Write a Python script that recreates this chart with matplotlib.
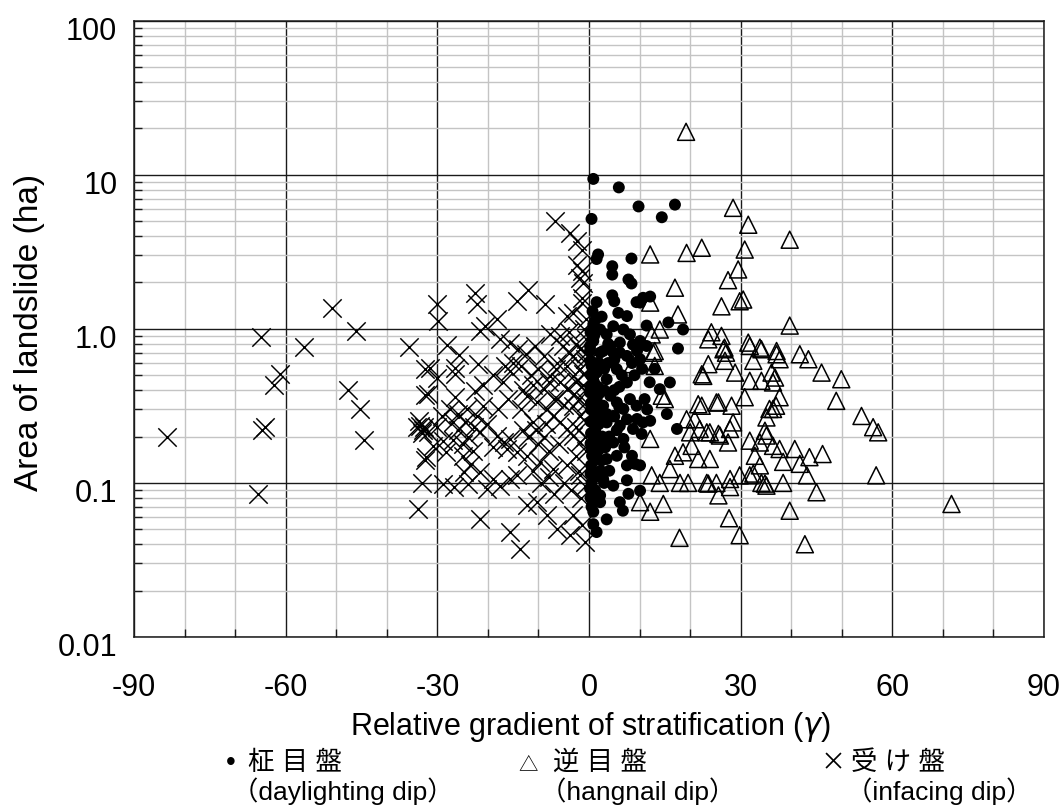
import matplotlib
matplotlib.use("Agg")
import matplotlib.pyplot as plt
import matplotlib.transforms as mtransforms
from matplotlib.ticker import FixedLocator, NullFormatter

plt.rcParams['font.family'] = ['Liberation Sans', 'Noto Sans CJK JP']

# infacing dip (受け盤) - crosses
infacing_x = [-83.5, -64.8, -61.1, -62.3, -64.0, -64.6, -65.5, -56.3, -50.9, -46.1,
              -47.7, -45.3, -44.5, -35.7, -32.4, -32.4, -33.4, -34.0, -32.8, -33.0,
              -32.4, -33.0, -33.8,
              -6.7, -3.75, -2.4, -1.4, -2.4, -1.4, -1.8, -1.2, -12.0, -14.3,
              -8.7, -22.5, -22.2, -30.1, -29.8, -1.4, -1.4, -3.1, -4.4, -0.5,
              -18.2, -20.6, -21.5, -28.1, -25.8, -31.4, -26.5, -21.9, -17.6, -15.6,
              -14.0, -12.4, -10.7, -15.0, -13.4, -16.6, -9.0, -6.4, -4.4, -3.1,
              -5.1, -7.7, -5.7, -0.5, -1.8, -0.8, -1.8,
              -30.1, -31.8, -26.5, -15.6, -26.5, -22.5, -20.9, -20.9, -33.7, -32.7,
              -31.8, -30.1, -28.9, -30.9, -28.2, -32.2, -28.8, -24.2, -22.2, -20.2,
              -21.5, -18.2, -16.9, -15.6, -18.9, -16.3, -14.3, -23.5, -24.8, -21.5,
              -18.9, -15.6, -14.3, -26.8, -23.9, -20.2, -17.6, -12.3, -10.3, -8.4,
              -7.1, -5.7, -4.4, -3.1, -1.8, -9.0, -6.4, -4.4, -3.1, -1.8,
              -0.5, -1.1, -7.7, -5.7, -3.1, -1.1, -12.3, -9.7, -7.1, -4.4,
              -1.8, -12.3, -10.3, -8.4, -6.4, -3.8, -1.4, -0.8, -21.5, -15.6,
              -13.6, -3.1,
              -11.0, -13.0, -9.0, -6.0, -2.5, -0.8, -0.6, -0.5, -10.0, -8.0,
              -18.0, -16.0, -13.5, -11.5, -10.0, -19.0, -17.0, -24.0, -26.0, -27.0,
              -25.0, -2.5, -1.0, -4.0, -3.0, -2.0, -0.7, -1.5, -5.0, -7.0, -9.5,
              -29.0, -27.5, -26.0, -24.5, -22.8, -27.0, -25.0, -23.0, -13.0, -11.0,
              -8.0, -6.5, -4.0, -2.5, -2.0, -0.7, -0.5, -0.6, -7.0, -5.0,
              -8.5, -10.5, -12.0, -2.5, -0.6, -3.5, -8.0, -11.0]
infacing_y = [0.20, 0.88, 0.51, 0.43, 0.23, 0.22, 0.085, 0.76, 1.36, 0.97,
              0.40, 0.30, 0.19, 0.76, 0.55, 0.37, 0.235, 0.23, 0.22, 0.21,
              0.14, 0.10, 0.068,
              5.0, 4.2, 3.7, 3.27, 2.6, 2.37, 2.14, 1.99, 1.8, 1.51,
              1.44, 1.72, 1.44, 1.44, 1.12, 1.59, 1.48, 1.27, 1.21, 1.15,
              1.15, 1.04, 0.97, 0.79, 0.68, 0.56, 0.56, 0.59, 0.855, 0.814,
              0.737, 0.684, 0.774, 0.60, 0.575, 0.575, 0.667, 0.60, 0.575, 0.667,
              0.774, 0.92, 0.90, 0.855, 0.737, 0.635, 0.55,
              0.48, 0.377, 0.507, 0.53, 0.36, 0.396, 0.317, 0.43, 0.253, 0.23,
              0.213, 0.23, 0.188, 0.174, 0.158, 0.147, 0.099, 0.302, 0.272, 0.241,
              0.213, 0.203, 0.183, 0.193, 0.17, 0.166, 0.158, 0.13, 0.117, 0.117,
              0.106, 0.106, 0.112, 0.094, 0.099, 0.092, 0.096, 0.368, 0.333, 0.302,
              0.272, 0.247, 0.224, 0.203, 0.183, 0.406, 0.35, 0.406, 0.317, 0.272,
              0.333, 0.43, 0.495, 0.45, 0.495, 0.507, 0.15, 0.137, 0.123, 0.13,
              0.112, 0.0714, 0.075, 0.0617, 0.0506, 0.0458, 0.0532, 0.0415, 0.0586, 0.048,
              0.0375, 0.0617,
              0.25, 0.22, 0.20, 0.18, 0.15, 0.20, 0.25, 0.30, 0.18, 0.16,
              0.30, 0.35, 0.30, 0.50, 0.55, 0.50, 0.45, 0.20, 0.22, 0.25,
              0.15, 0.80, 1.00, 0.95, 0.38, 0.12, 0.095, 0.08, 0.10, 0.085, 0.10,
              0.27, 0.30, 0.28, 0.25, 0.23, 0.19, 0.18, 0.16, 0.40, 0.43,
              0.45, 0.55, 0.70, 0.45, 0.35, 0.40, 0.60, 0.70, 0.35, 0.32,
              0.24, 0.22, 0.20, 0.23, 0.16, 0.09, 0.11, 0.12]

# daylighting dip (柾目盤) - dots
daylight_x = [0.85, 5.9, 9.8, 17.0, 14.4, 0.5, 1.8, 1.5, 8.4, 4.6,
              4.6, 7.8, 8.4, 4.6, 5.0, 1.5, 9.4, 10.7, 12.1, 10.1,
              5.8, 7.5, 15.7, 18.6, 11.4, 17.6, 0.85, 2.2, 3.5, 4.8,
              6.8, 8.1, 6.1, 8.7, 10.1, 0.85, 2.8, 4.8, 7.5, 0.2,
              16.0, 14.0, 15.4, 17.4, 10.7, 12.1, 10.4, 9.1, 10.1, 7.5,
              10.1, 7.8, 6.1, 6.7, 3.5, 2.2, 0.85, 1.5,
              0.2, 1.5, 2.8, 4.2, 5.5, 6.8, 8.1, 9.4, 2.2, 3.5,
              4.8, 6.1, 7.5, 8.7, 0.85, 2.8, 4.8, 6.8, 1.5, 3.5,
              5.5, 7.5, 0.85, 2.8, 4.8, 0.2, 2.2, 0.5, 0.85,
              0.2, 2.2, 4.2, 6.1, 0.5, 1.5, 3.5, 5.5, 7.5, 10.1, 11.4,
              0.3, 0.4, 1.0, 0.6, 1.2, 3.0, 2.0, 1.0, 3.0, 0.4,
              0.3, 0.4, 1.5, 2.5, 4.0, 5.0, 6.5, 9.0, 12.0, 13.0,
              11.0, 3.8, 0.7, 0.5, 0.3, 1.0, 2.0, 3.5, 5.5, 7.0, 8.5, 2.3,
              0.3, 0.6, 0.3, 0.8, 0.3, 0.9, 0.4, 1.1, 0.4, 1.3,
              0.5, 1.1, 0.3, 1.2, 0.6, 1.6, 1.8, 2.1, 1.9, 2.6,
              3.2, 2.0, 3.0, 4.0, 5.0, 6.0, 5.0, 3.8, 1.3, 2.5,
              9.5, 8.5, 10.5, 6.0, 9.5, 11.5]
daylight_y = [9.4, 8.28, 6.23, 6.4, 5.3, 5.17, 3.04, 2.84, 2.86, 2.55,
              2.25, 2.09, 1.97, 1.65, 1.51, 1.49, 1.49, 1.59, 1.62, 1.48,
              1.27, 1.21, 1.10, 0.99, 1.05, 0.745, 1.07, 0.99, 0.92, 1.04,
              0.99, 0.92, 0.814, 0.79, 0.834, 0.834, 0.718, 0.701, 0.667, 0.718,
              0.449, 0.406, 0.28, 0.224, 0.247, 0.253, 0.208, 0.133, 0.13, 0.104,
              0.089, 0.085, 0.075, 0.066, 0.058, 0.075, 0.054, 0.048,
              0.386, 0.35, 0.317, 0.368, 0.333, 0.302, 0.35, 0.317, 0.272, 0.247,
              0.272, 0.235, 0.259, 0.224, 0.203, 0.193, 0.183, 0.193, 0.158, 0.143,
              0.15, 0.13, 0.117, 0.106, 0.096, 0.092, 0.083, 0.07, 0.065,
              0.774, 0.701, 0.774, 0.701, 0.575, 0.52, 0.471, 0.547, 0.449, 0.635, 0.774,
              0.25, 0.30, 0.45, 0.15, 0.22, 0.40, 0.60, 0.90, 0.55, 0.50,
              0.18, 0.13, 0.11, 0.14, 0.20, 0.40, 0.50, 0.50, 0.45, 0.55,
              0.35, 0.60, 1.30, 0.10, 0.08, 0.30, 0.38, 0.28, 0.22, 0.17, 0.15, 0.12,
              0.95, 0.85, 0.62, 0.48, 0.42, 0.35, 0.33, 0.27, 0.21, 0.19,
              0.165, 0.14, 0.115, 0.09, 0.078, 0.60, 0.42, 0.31, 0.24, 0.20,
              0.17, 0.165, 0.10, 0.12, 0.27, 0.42, 0.63, 0.80, 1.15, 1.20,
              0.72, 0.60, 0.55, 0.31, 0.26, 0.30]

# hangnail dip (逆目盤) - triangles
hangnail_x = [19.2, 28.5, 31.5, 39.7, 30.8, 22.3, 19.3, 12.1, 29.5, 27.5,
              17.0, 26.2, 29.8, 30.5, 17.6, 12.1, 39.7, 14.0, 12.4, 24.2,
              26.2, 23.6, 31.5, 33.8, 37.1, 26.8, 27.1, 13.0, 37.1, 41.7,
              43.4, 46.0, 49.9, 48.9, 53.9, 56.2, 57.2, 56.8, 71.7, 45.0,
              39.7, 42.7, 27.7, 29.8, 37.7, 36.4, 35.1, 34.8, 30.8, 28.2,
              25.6, 22.3, 28.5, 23.3, 25.6, 27.5, 31.8, 33.8, 35.1, 36.4,
              37.7, 40.7, 43.6, 46.2, 32.8, 33.8, 38.4, 41.7, 43.1, 32.5,
              34.8, 38.4, 27.9, 23.6, 25.6, 27.9, 28.9, 31.8, 34.1, 36.8,
              22.6, 37.7, 32.5, 26.9, 23.6, 22.3, 26.6, 31.8, 34.1, 36.1,
              36.4, 12.7, 13.0, 8.7, 15.0, 14.4, 21.6, 25.2, 35.7, 37.0,
              19.3, 20.9, 20.0, 21.9, 23.9, 25.9, 27.9, 12.1, 17.0, 18.6,
              20.3, 21.6, 23.9, 12.4, 16.0, 14.0, 18.0, 19.6, 23.3, 25.2,
              29.8, 31.8, 34.1, 35.1, 10.1, 12.1, 14.7, 17.9]
hangnail_y = [19.0, 6.1, 4.74, 3.79, 3.27, 3.36, 3.11, 3.04, 2.43, 2.07,
              1.85, 1.40, 1.51, 1.55, 1.24, 1.48, 1.05, 0.99, 0.92, 0.95,
              0.90, 0.855, 0.814, 0.755, 0.718, 0.755, 0.70, 0.718, 0.684, 0.684,
              0.635, 0.52, 0.471, 0.341, 0.272, 0.23, 0.213, 0.112, 0.073, 0.087,
              0.066, 0.040, 0.059, 0.0458, 0.36, 0.302, 0.266, 0.218, 0.36, 0.317,
              0.333, 0.317, 0.247, 0.213, 0.208, 0.183, 0.188, 0.183, 0.203, 0.174,
              0.166, 0.166, 0.147, 0.154, 0.15, 0.13, 0.137, 0.133, 0.112, 0.115,
              0.099, 0.10, 0.106, 0.099, 0.083, 0.094, 0.52, 0.46, 0.46, 0.483,
              0.495, 0.635, 0.62, 0.62, 0.59, 0.507, 0.737, 0.774, 0.737, 0.52,
              0.449, 0.70, 0.575, 0.59, 0.35, 0.368, 0.324, 0.333, 0.302, 0.317,
              0.259, 0.259, 0.213, 0.224, 0.213, 0.203, 0.224, 0.193, 0.15, 0.158,
              0.174, 0.143, 0.143, 0.112, 0.123, 0.10, 0.10, 0.10, 0.10, 0.10,
              0.112, 0.112, 0.10, 0.096, 0.075, 0.065, 0.073, 0.044]

x_ticks = [-90, -60, -30, 0, 30, 60, 90]
y_ticks = [100, 10, 1, 0.1, 0.01]
y_tick_labels = ["100", "10", "1.0", "0.1", "0.01"]

W, H = 1064, 808
fig = plt.figure(figsize=(W / 100, H / 100), dpi=100)
ax = fig.add_axes([134 / W, 1 - 637 / H, 910 / W, 616.3 / H])

ax.set_yscale("log")
ax.set_xlim(-90, 90)
ax.set_ylim(0.01, 100)

ax.set_xticks(x_ticks)
ax.set_xticklabels([str(t) for t in x_ticks])
ax.xaxis.set_minor_locator(FixedLocator([v for v in range(-80, 90, 10) if v % 30 != 0]))
ax.set_yticks(y_ticks)
ax.set_yticklabels(y_tick_labels)
minor_y = [m * 10.0 ** e for e in range(-2, 2) for m in range(2, 10)]
ax.yaxis.set_minor_locator(FixedLocator(minor_y))
ax.yaxis.set_minor_formatter(NullFormatter())

ax.grid(True, which="major", color="#1a1a1a", linewidth=1.0)
ax.grid(True, which="minor", color="#c4c4c4", linewidth=1.0)
ax.set_axisbelow(True)

ax.tick_params(which="major", direction="in", length=0, labelsize=22, colors="black")
ax.tick_params(axis="x", which="major", pad=26)
ax.tick_params(axis="y", which="major", pad=12)
ax.tick_params(which="minor", direction="in", length=6, width=1.0, color="#1a1a1a")
for sp in ax.spines.values():
    sp.set_linewidth(1.1)
    sp.set_color("#1a1a1a")

# markers
ax.scatter(infacing_x, infacing_y, marker="x", s=175, c="black", linewidths=1.05, zorder=3)
ax.scatter(daylight_x, daylight_y, marker="o", s=74, c="black", edgecolors="none", zorder=4)
ax.scatter(hangnail_x, hangnail_y, marker="^", s=150, facecolors="none", edgecolors="black",
           linewidths=1.1, zorder=5)

# y tick labels sit slightly below the gridlines
offset = mtransforms.ScaledTranslation(0, -8 / 100, fig.dpi_scale_trans)
for lab in ax.get_yticklabels():
    lab.set_transform(lab.get_transform() + offset)


def px(x, y):
    return x / W, 1 - y / H


fig.text(*px(350, 735), r"Relative gradient of stratification ($\gamma$)", fontsize=22,
         ha="left", va="baseline")
fig.text(*px(30, 332), "Area of landslide (ha)", fontsize=24, rotation=90,
         ha="center", va="center")

# legend below the chart
cjk = ["Noto Sans CJK JP", "Liberation Sans"]
fig.text(*px(231, 770), "•", fontsize=20, ha="center", va="baseline")
fig.text(*px(248, 770), "柾 目 盤", fontsize=19, ha="left", va="baseline")
fig.text(*px(232, 800), "（daylighting dip）", fontsize=19, ha="left", va="baseline")

fig.text(*px(528, 770), "△", fontsize=14, ha="center", va="baseline", family=cjk)
fig.text(*px(553, 770), "逆 目 盤", fontsize=19, ha="left", va="baseline")
fig.text(*px(540, 800), "（hangnail dip）", fontsize=19, ha="left", va="baseline")

fig.text(*px(833, 770), "×", fontsize=18, ha="center", va="baseline", family=cjk)
fig.text(*px(851, 770), "受 け 盤", fontsize=19, ha="left", va="baseline")
fig.text(*px(846, 800), "（infacing dip）", fontsize=19, ha="left", va="baseline")

fig.savefig("out.png", dpi=100)
